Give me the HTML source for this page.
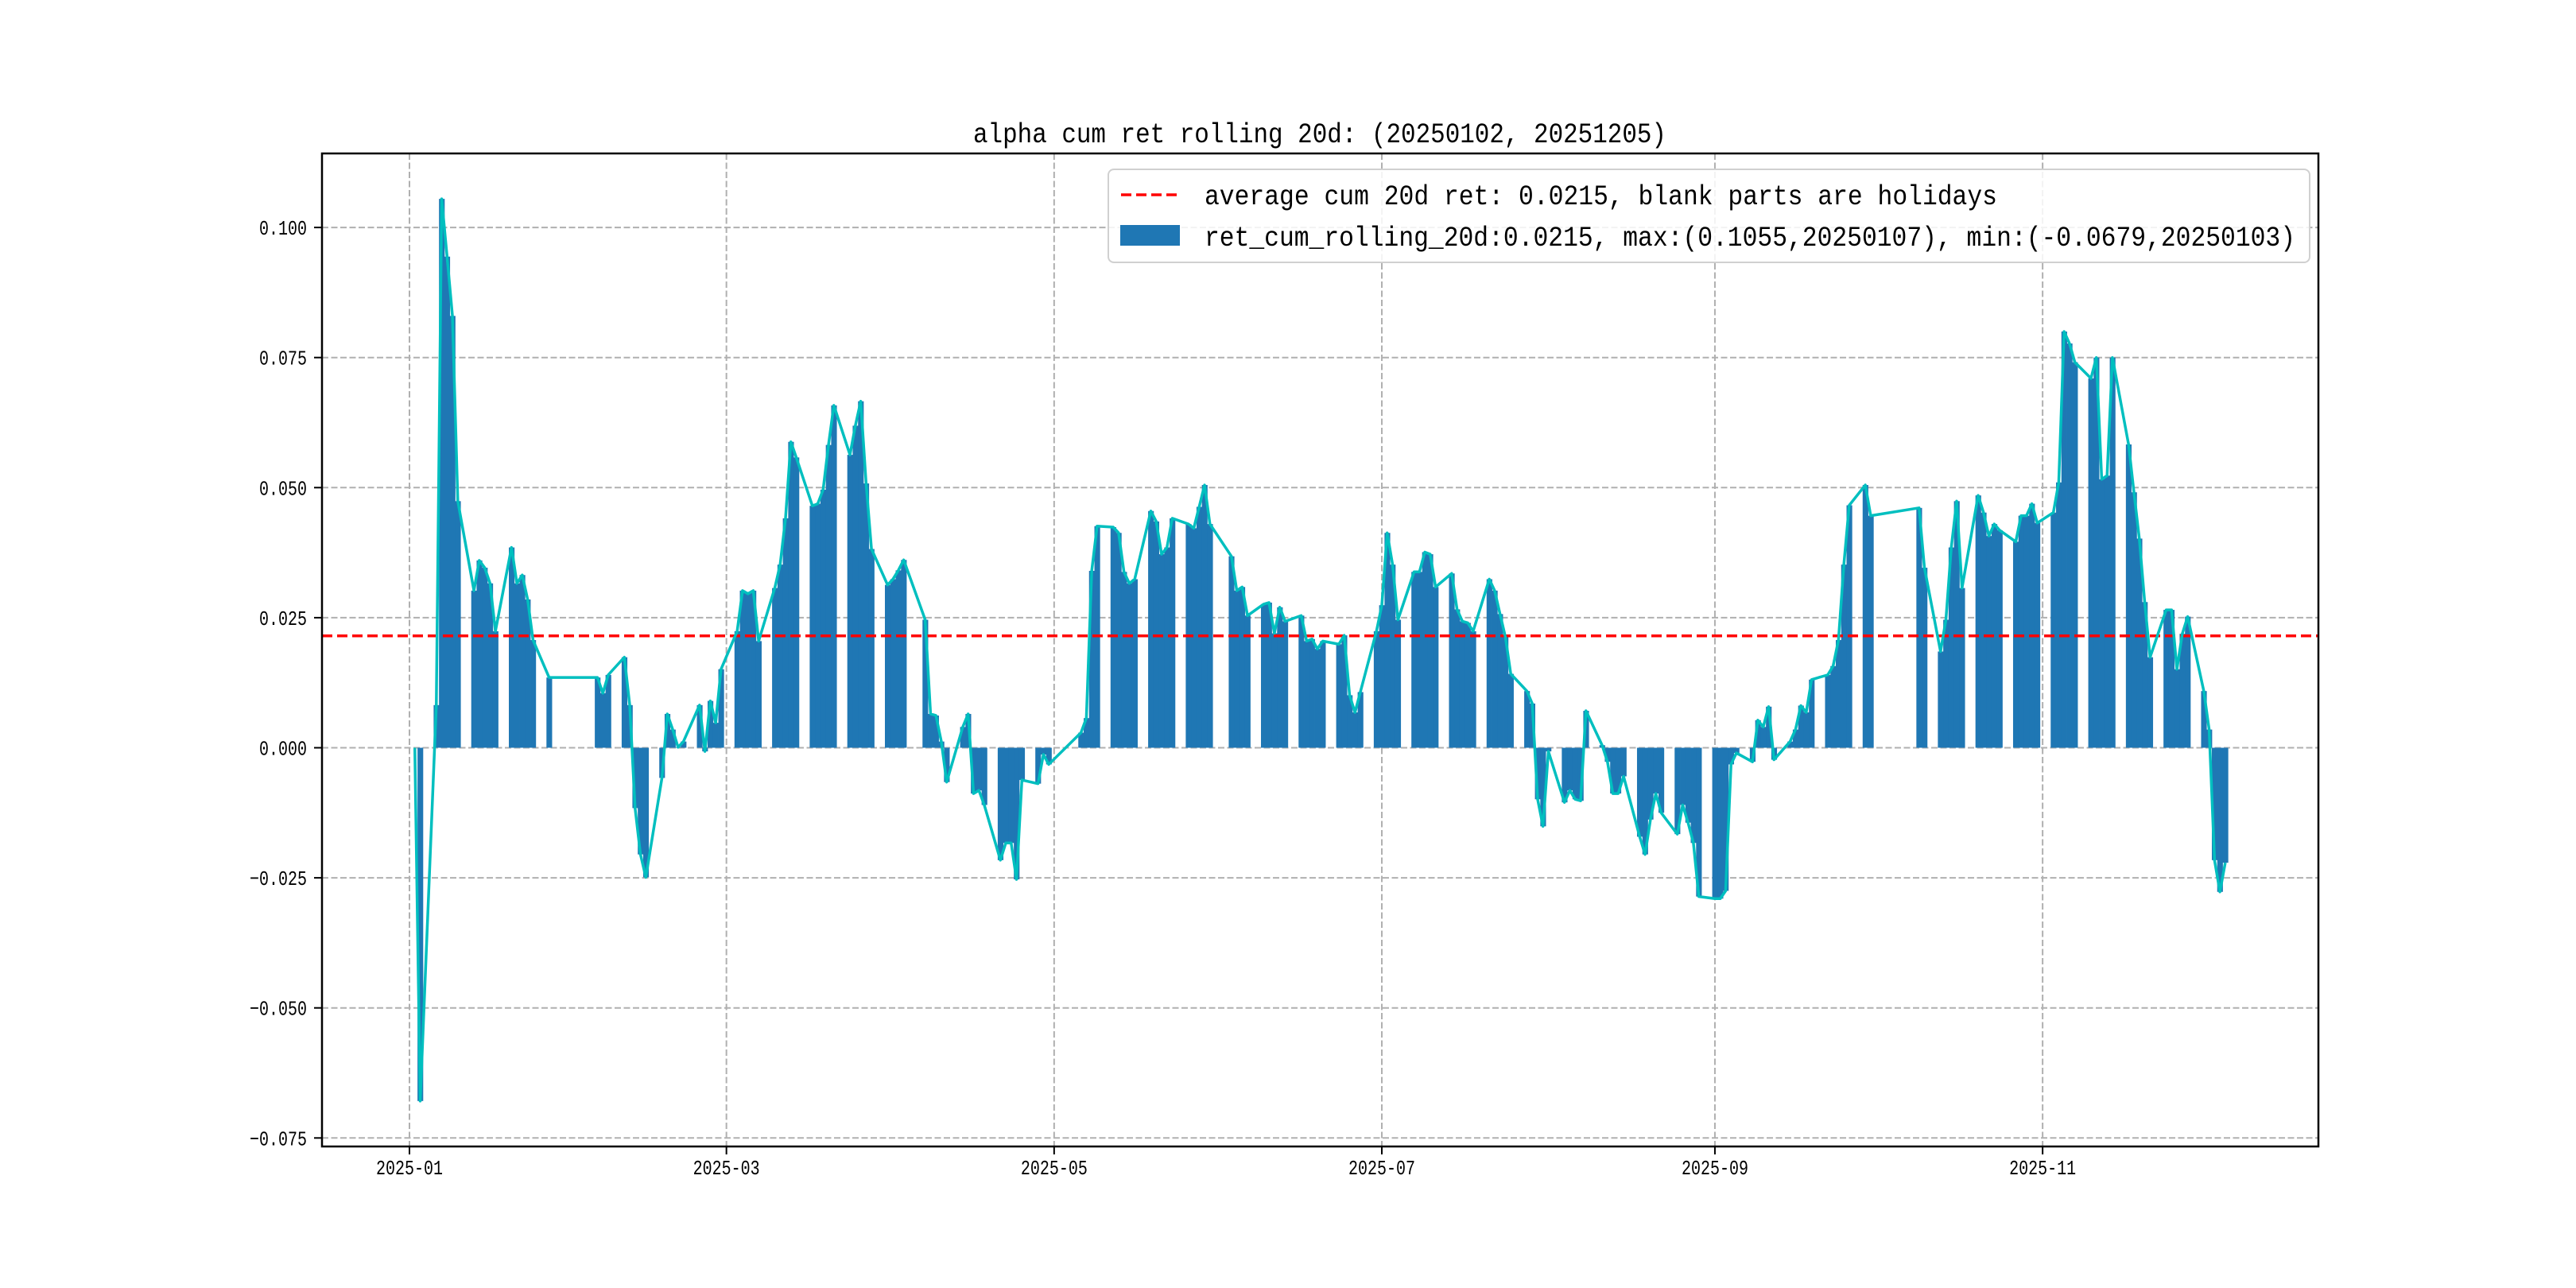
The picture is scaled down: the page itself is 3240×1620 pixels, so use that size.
<!DOCTYPE html>
<html><head><meta charset="utf-8"><title>alpha cum ret rolling 20d</title>
<style>html,body{margin:0;padding:0;background:#fff;}svg{display:block;}</style></head>
<body>
<svg id="chart" width="3240" height="1620" viewBox="0 0 3240 1620" xmlns="http://www.w3.org/2000/svg" font-family="'Liberation Mono', 'Noto Sans CJK SC', monospace">
<rect x="0" y="0" width="3240" height="1620" fill="#fff"/>
<g id="grid"></g>
<g id="bars"></g>
<g id="overlay"></g>
<rect x="405" y="193" width="2511" height="1249" fill="none" stroke="#000" stroke-width="2.5"/>
<g id="ticks"></g>
<text x="1660" y="179" font-size="35" text-anchor="middle" textLength="872" lengthAdjust="spacingAndGlyphs">alpha cum ret rolling 20d: (20250102, 20251205)</text>
<g>
<rect x="1394" y="213" width="1511" height="117" rx="7" fill="#fff" fill-opacity="0.85" stroke="#d0d0d0" stroke-width="2"/>
<line x1="1410" y1="245" x2="1484" y2="245" stroke="#ff0000" stroke-width="3.5" stroke-dasharray="13,6"/>
<text x="1515" y="257" font-size="35" textLength="997" lengthAdjust="spacingAndGlyphs">average cum 20d ret: 0.0215, blank parts are holidays</text>
<rect x="1409" y="283" width="75" height="26" fill="#1f77b4"/>
<text x="1515" y="309" font-size="35" textLength="1372" lengthAdjust="spacingAndGlyphs">ret_cum_rolling_20d:0.0215, max:(0.1055,20250107), min:(-0.0679,20250103)</text>
</g>
</svg>
<script>
const dates = ["2025-01-02","2025-01-03","2025-01-06","2025-01-07","2025-01-08","2025-01-09","2025-01-10","2025-01-13","2025-01-14","2025-01-15","2025-01-16","2025-01-17","2025-01-20","2025-01-21","2025-01-22","2025-01-23","2025-01-24","2025-01-27",
"2025-02-05","2025-02-06","2025-02-07","2025-02-10","2025-02-11","2025-02-12","2025-02-13","2025-02-14","2025-02-17","2025-02-18","2025-02-19","2025-02-20","2025-02-21","2025-02-24","2025-02-25","2025-02-26","2025-02-27","2025-02-28",
"2025-03-03","2025-03-04","2025-03-05","2025-03-06","2025-03-07","2025-03-10","2025-03-11","2025-03-12","2025-03-13","2025-03-14","2025-03-17","2025-03-18","2025-03-19","2025-03-20","2025-03-21","2025-03-24","2025-03-25","2025-03-26","2025-03-27","2025-03-28","2025-03-31",
"2025-04-01","2025-04-02","2025-04-03","2025-04-07","2025-04-08","2025-04-09","2025-04-10","2025-04-11","2025-04-14","2025-04-15","2025-04-16","2025-04-17","2025-04-18","2025-04-21","2025-04-22","2025-04-23","2025-04-24","2025-04-25","2025-04-28","2025-04-29","2025-04-30",
"2025-05-06","2025-05-07","2025-05-08","2025-05-09","2025-05-12","2025-05-13","2025-05-14","2025-05-15","2025-05-16","2025-05-19","2025-05-20","2025-05-21","2025-05-22","2025-05-23","2025-05-26","2025-05-27","2025-05-28","2025-05-29","2025-05-30",
"2025-06-03","2025-06-04","2025-06-05","2025-06-06","2025-06-09","2025-06-10","2025-06-11","2025-06-12","2025-06-13","2025-06-16","2025-06-17","2025-06-18","2025-06-19","2025-06-20","2025-06-23","2025-06-24","2025-06-25","2025-06-26","2025-06-27","2025-06-30",
"2025-07-01","2025-07-02","2025-07-03","2025-07-04","2025-07-07","2025-07-08","2025-07-09","2025-07-10","2025-07-11","2025-07-14","2025-07-15","2025-07-16","2025-07-17","2025-07-18","2025-07-21","2025-07-22","2025-07-23","2025-07-24","2025-07-25","2025-07-28","2025-07-29","2025-07-30","2025-07-31",
"2025-08-01","2025-08-04","2025-08-05","2025-08-06","2025-08-07","2025-08-08","2025-08-11","2025-08-12","2025-08-13","2025-08-14","2025-08-15","2025-08-18","2025-08-19","2025-08-20","2025-08-21","2025-08-22","2025-08-25","2025-08-26","2025-08-27","2025-08-28","2025-08-29",
"2025-09-01","2025-09-02","2025-09-03","2025-09-04","2025-09-05","2025-09-08","2025-09-09","2025-09-10","2025-09-11","2025-09-12","2025-09-15","2025-09-16","2025-09-17","2025-09-18","2025-09-19","2025-09-22","2025-09-23","2025-09-24","2025-09-25","2025-09-26","2025-09-29","2025-09-30",
"2025-10-09","2025-10-10","2025-10-13","2025-10-14","2025-10-15","2025-10-16","2025-10-17","2025-10-20","2025-10-21","2025-10-22","2025-10-23","2025-10-24","2025-10-27","2025-10-28","2025-10-29","2025-10-30","2025-10-31",
"2025-11-03","2025-11-04","2025-11-05","2025-11-06","2025-11-07","2025-11-10","2025-11-11","2025-11-12","2025-11-13","2025-11-14","2025-11-17","2025-11-18","2025-11-19","2025-11-20","2025-11-21","2025-11-24","2025-11-25","2025-11-26","2025-11-27","2025-11-28",
"2025-12-01","2025-12-02","2025-12-03","2025-12-04","2025-12-05"];
const values = [0,-0.0679,0.0082,0.1055,0.0944,0.083,0.0474,0.0302,0.036,0.0346,0.0316,0.0224,0.0385,0.0316,0.0332,0.0285,0.0207,0.0135,
0.0135,0.0105,0.014,0.0174,0.0082,-0.0116,-0.0205,-0.0249,-0.0058,0.0065,0.0035,0.0001,0.0012,0.0082,-0.0007,0.009,0.0048,0.0151,
0.0224,0.0302,0.0296,0.0302,0.0205,0.0307,0.0352,0.0441,0.0588,0.0558,0.0465,0.0469,0.0496,0.0582,0.0658,0.0563,0.0619,0.0666,0.0508,0.0382,0.0313,
0.0324,0.0341,0.0361,0.0246,0.0065,0.0062,0.0012,-0.0066,0.004,0.0065,-0.0088,-0.0082,-0.011,-0.0216,-0.0183,-0.0183,-0.0253,-0.0062,-0.0069,-0.0013,-0.0032,
0.0029,0.0057,0.034,0.0426,0.0424,0.0413,0.0338,0.0316,0.0324,0.0455,0.0435,0.0372,0.0385,0.0441,0.043,0.0422,0.0463,0.0505,0.043,
0.0368,0.0302,0.0309,0.0254,0.0276,0.0279,0.022,0.027,0.0243,0.0254,0.0205,0.0209,0.019,0.0205,0.0199,0.0216,0.0101,0.0068,0.0107,0.0224,
0.0274,0.0413,0.0352,0.0246,0.0338,0.0338,0.0376,0.0372,0.0309,0.0335,0.0266,0.0243,0.024,0.0224,0.0324,0.0302,0.0257,0.0213,0.0142,0.0109,0.0085,-0.0099,-0.0151,
-0.0007,-0.0105,-0.0082,-0.0099,-0.0102,0.0071,0.0005,-0.0027,-0.0088,-0.0088,-0.0055,-0.0171,-0.0205,-0.0138,-0.0088,-0.0125,-0.0166,-0.011,-0.0144,-0.0183,-0.0286,
-0.029,-0.029,-0.0275,-0.0032,-0.001,-0.0027,0.0053,0.004,0.0079,-0.0023,0.0012,0.0035,0.0081,0.0068,0.0131,0.014,0.0157,0.0207,0.0352,0.0466,0.0505,0.0446,
0.0461,0.0346,0.0185,0.0246,0.0385,0.0474,0.0307,0.0485,0.0452,0.0407,0.043,0.0418,0.0396,0.0446,0.0446,0.0469,0.0432,
0.0452,0.051,0.08,0.0777,0.0741,0.071,0.075,0.0516,0.0523,0.075,0.0583,0.0491,0.0402,0.028,0.0174,0.0265,0.0265,0.0151,0.0219,0.0252,
0.0109,0.0035,-0.0216,-0.0277,-0.0221];
const avgValue = 0.0215;
const yTicks = [-0.075,-0.05,-0.025,0,0.025,0.05,0.075,0.1];
const yTickLabels = ["\u22120.075","\u22120.050","\u22120.025","0.000","0.025","0.050","0.075","0.100"];
const xTicks = ["2025-01-01","2025-03-01","2025-05-01","2025-07-01","2025-09-01","2025-11-01"];
const xTickLabels = ["2025-01","2025-03","2025-05","2025-07","2025-09","2025-11"];

const NS = "http://www.w3.org/2000/svg";
const AX = {l:405, r:2916, t:193, b:1442};
const DAY0 = Date.UTC(2025,0,1);
const PXDAY = 6.757, X0 = 515;
function dayOf(s){const p=s.split('-');return (Date.UTC(+p[0],+p[1]-1,+p[2])-DAY0)/86400000;}
function xScale(s){return X0 + dayOf(s)*PXDAY;}
const Y0 = 940.5, PXUNIT = 6544;
function yScale(v){return Y0 - v*PXUNIT;}
function mk(tag, attrs, parent){const e=document.createElementNS(NS,tag);for(const k in attrs)e.setAttribute(k,attrs[k]);parent.appendChild(e);return e;}

const grid = document.getElementById('grid');
yTicks.forEach((v,i)=>{
  const g = mk('line',{x1:AX.l,x2:AX.r,y1:yScale(v),y2:yScale(v),stroke:'#b0b0b0','stroke-width':2,'stroke-dasharray':'8,3.5'},grid);
  
  
});
xTicks.forEach((d,i)=>{
  const g = mk('line',{x1:xScale(d),x2:xScale(d),y1:AX.t,y2:AX.b,stroke:'#b0b0b0','stroke-width':2,'stroke-dasharray':'8,3.5'},grid);
  
  
});

const bars = document.getElementById('bars');
dates.forEach((d,i)=>{
  const v = values[i];
  const x = xScale(d) - PXDAY/2;
  const y1 = yScale(Math.max(v,0)), y2 = yScale(Math.min(v,0));
  const b = mk('rect',{x:x,y:y1,width:PXDAY+0.4,height:Math.max(y2-y1,0.01),fill:'#1f77b4'},bars);
  
  
});

const ov = document.getElementById('overlay');
const avg = mk('line',{x1:AX.l,x2:AX.r,y1:yScale(avgValue),y2:yScale(avgValue),stroke:'#ff0000','stroke-width':3.5,'stroke-dasharray':'13,6'},ov);


const pts = dates.map((d,i)=>xScale(d).toFixed(2)+','+yScale(values[i]).toFixed(2)).join(' ');
const ln = mk('polyline',{points:pts,fill:'none',stroke:'#00bfbf','stroke-width':3.5,'stroke-linejoin':'round'},ov);



const ticks = document.getElementById('ticks');
yTicks.forEach((v,i)=>{
  const y = yScale(v);
  const t = mk('line',{x1:AX.l-10,x2:AX.l,y1:y,y2:y,stroke:'#000','stroke-width':2},ticks);
  
  
  const lbl = yTickLabels[i];
  const tx = mk('text',{x:386,y:y+9,'font-size':26,'text-anchor':'end',textLength:lbl.length*12,lengthAdjust:'spacingAndGlyphs'},ticks);
  tx.textContent = lbl;
  
  
});
xTicks.forEach((d,i)=>{
  const x = xScale(d);
  const t = mk('line',{x1:x,x2:x,y1:AX.b,y2:AX.b+10,stroke:'#000','stroke-width':2},ticks);
  
  
  const tx = mk('text',{x:x,y:1477,'font-size':26,'text-anchor':'middle',textLength:84,lengthAdjust:'spacingAndGlyphs'},ticks);
  tx.textContent = xTickLabels[i];
  
  
});
</script>
</body></html>
